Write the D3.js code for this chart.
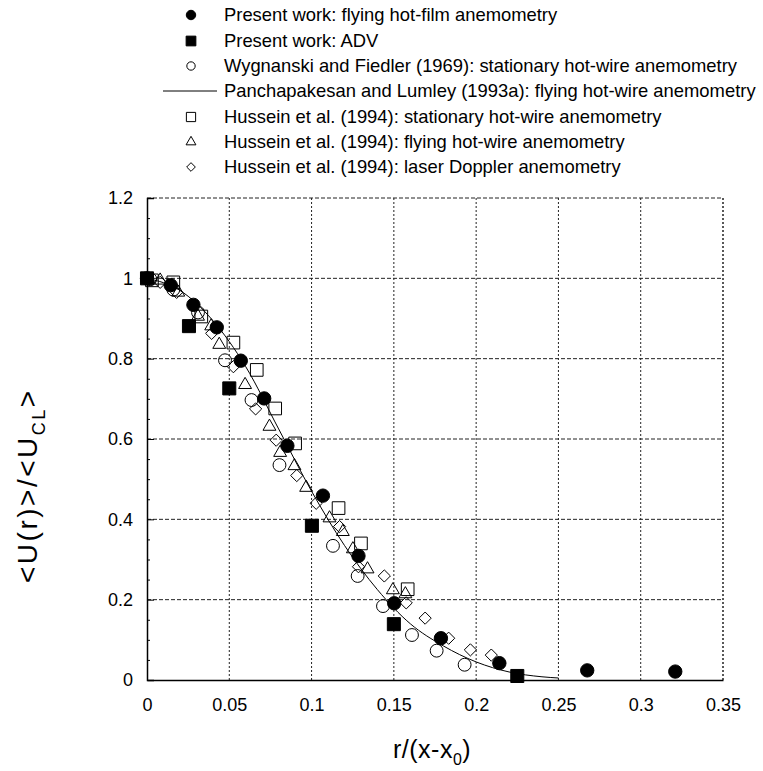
<!DOCTYPE html>
<html>
<head>
<meta charset="utf-8">
<script src="https://cdn.jsdelivr.net/npm/d3@7"></script>
<style>
  html, body { margin: 0; padding: 0; background: #fff; }
  svg { display: block; }
  text { font-family: Arial, "Liberation Sans", sans-serif; fill: #000; }
</style>
</head>
<body>
<svg id="chart" width="763" height="771"></svg>
<script>
// ---------- data ----------
const xTicks = [0, 0.05, 0.1, 0.15, 0.2, 0.25, 0.3, 0.35];
const xTickLabels = ["0", "0.05", "0.1", "0.15", "0.2", "0.25", "0.3", "0.35"];
const yTicks = [0, 0.2, 0.4, 0.6, 0.8, 1, 1.2];
const yTickLabels = ["0", "0.2", "0.4", "0.6", "0.8", "1", "1.2"];

const seriesNames = [
  "Present work: flying hot-film anemometry",
  "Present work: ADV",
  "Wygnanski and Fiedler (1969): stationary hot-wire anemometry",
  "Panchapakesan and Lumley (1993a): flying hot-wire anemometry",
  "Hussein et al. (1994): stationary hot-wire anemometry",
  "Hussein et al. (1994): flying hot-wire anemometry",
  "Hussein et al. (1994): laser Doppler anemometry"
];

// Present work: flying hot-film (filled circles)
const hfX = [0, 0.0144, 0.0282, 0.0424, 0.057, 0.0712, 0.0853, 0.1069, 0.1285, 0.1502, 0.1786, 0.2141, 0.2675, 0.321];
const hfY = [1.0, 0.983, 0.934, 0.878, 0.795, 0.701, 0.583, 0.459, 0.309, 0.191, 0.104, 0.042, 0.024, 0.021];

// Present work: ADV (filled squares)
const advX = [0, 0.0255, 0.050, 0.1002, 0.150, 0.225];
const advY = [1.0, 0.881, 0.726, 0.384, 0.139, 0.01];

// Wygnanski and Fiedler (open circles)
const wfX = [0.002, 0.016, 0.031, 0.0474, 0.0635, 0.0805, 0.113, 0.128, 0.1434, 0.161, 0.176, 0.193];
const wfY = [0.998, 0.972, 0.915, 0.796, 0.697, 0.535, 0.334, 0.259, 0.184, 0.112, 0.073, 0.038];

// Panchapakesan and Lumley (solid line)
const plX = [0, 0.02, 0.04, 0.06, 0.08, 0.1, 0.12, 0.14, 0.16, 0.18, 0.2, 0.22, 0.24, 0.25];
const plY = [1.0, 0.97, 0.895, 0.78, 0.625, 0.47, 0.335, 0.225, 0.14, 0.085, 0.045, 0.02, 0.008, 0.005];

// Hussein et al. stationary hot-wire (open squares)
const hsX = [0.003, 0.016, 0.033, 0.0525, 0.0667, 0.0779, 0.090, 0.1164, 0.130, 0.1584];
const hsY = [0.995, 0.99, 0.905, 0.84, 0.772, 0.676, 0.589, 0.428, 0.340, 0.226];

// Hussein et al. flying hot-wire (open triangles)
const htX = [0.008, 0.019, 0.031, 0.039, 0.0439, 0.0596, 0.0744, 0.0809, 0.0896, 0.0967, 0.1109, 0.119, 0.1251, 0.134, 0.1494, 0.157];
const htY = [0.995, 0.965, 0.905, 0.881, 0.835, 0.735, 0.631, 0.566, 0.533, 0.479, 0.403, 0.369, 0.326, 0.276, 0.224, 0.214];

// Hussein et al. laser Doppler (open diamonds)
const hdX = [0.008, 0.018, 0.0393, 0.0525, 0.066, 0.0785, 0.091, 0.1028, 0.117, 0.1285, 0.1442, 0.1575, 0.169, 0.1833, 0.1965, 0.2092];
const hdY = [0.99, 0.965, 0.863, 0.78, 0.675, 0.597, 0.509, 0.44, 0.382, 0.282, 0.259, 0.192, 0.154, 0.104, 0.075, 0.062];

// ---------- layout ----------
const svg = d3.select("#chart");
const L = 147, R = 723, T = 198, B = 680;
const x = d3.scaleLinear().domain([0, 0.35]).range([L, R]);
const y = d3.scaleLinear().domain([0, 1.2]).range([B, T]);

// grid
const g = svg.append("g");
g.selectAll("line.vg").data(xTicks.slice(1, -1)).enter().append("line")
  .attr("x1", d => x(d)).attr("x2", d => x(d)).attr("y1", T).attr("y2", B)
  .attr("stroke", "#222").attr("stroke-width", 1).attr("stroke-dasharray", "2,2");
g.selectAll("line.hg").data(yTicks.slice(1, -1)).enter().append("line")
  .attr("x1", L).attr("x2", R).attr("y1", d => y(d)).attr("y2", d => y(d))
  .attr("stroke", "#222").attr("stroke-width", 1).attr("stroke-dasharray", "4,2");

// frame: top & right dashed, left & bottom solid
svg.append("line").attr("x1", L).attr("x2", R).attr("y1", T).attr("y2", T)
  .attr("stroke", "#222").attr("stroke-width", 1).attr("stroke-dasharray", "4,2");
svg.append("line").attr("x1", R).attr("x2", R).attr("y1", T).attr("y2", B)
  .attr("stroke", "#222").attr("stroke-width", 1.5).attr("stroke-dasharray", "2,2");

// axes via d3
const yAxis = d3.axisLeft(y).tickValues(yTicks).tickFormat((d, i) => yTickLabels[i]).tickSize(-7).tickPadding(14);
const yAx = svg.append("g").attr("transform", `translate(${L},0)`).call(yAxis);
const xAxis = d3.axisBottom(x).tickValues(xTicks).tickFormat((d, i) => xTickLabels[i]).tickSize(0).tickPadding(18);
const xAx = svg.append("g").attr("transform", `translate(0,${B})`).call(xAxis);
[yAx, xAx].forEach(a => {
  a.select(".domain").attr("stroke", "#000").attr("stroke-width", 1.5);
  a.selectAll("text").style("font-size", "18px").style("font-family", "Arial, 'Liberation Sans', sans-serif").attr("fill", "#000");
  a.selectAll("line").attr("stroke", "#000");
});
// y minor ticks
const yMinor = d3.range(0, 1.2001, 0.05).filter(v => Math.abs(v * 5 - Math.round(v * 5)) > 1e-6);
svg.append("g").attr("transform", `translate(${L},0)`).call(d3.axisLeft(y).tickValues(yMinor).tickSize(-3).tickFormat(""))
  .call(a => a.select(".domain").remove()).selectAll("line").attr("stroke", "#000");

// ---------- marks ----------
const zip = (xs, ys) => xs.map((v, i) => [v, ys[i]]);
const plot = svg.append("g");
const sym = {
  circle: d3.symbol().type(d3.symbolCircle),
  square: d3.symbol().type(d3.symbolSquare),
  triangle: d3.symbol().type(d3.symbolTriangle),
  diamond: d3.symbol().type(d3.symbolDiamond2)
};
function drawPts(data, type, size, filled) {
  plot.append("g").selectAll("path").data(data).enter().append("path")
    .attr("transform", d => `translate(${x(d[0])},${y(d[1])})`)
    .attr("d", sym[type].size(size)())
    .attr("fill", filled ? "#000" : "none")
    .attr("stroke", "#000").attr("stroke-width", 1);
}

// line
plot.append("path").datum(zip(plX, plY))
  .attr("d", d3.line().x(d => x(d[0])).y(d => y(d[1])).curve(d3.curveMonotoneX))
  .attr("fill", "none").attr("stroke", "#000").attr("stroke-width", 1);

drawPts(zip(hdX, hdY), "diamond", 95, false);
drawPts(zip(htX, htY), "triangle", 72, false);
drawPts(zip(hsX, hsY), "square", 160, false);
drawPts(zip(wfX, wfY), "circle", 130, false);
drawPts(zip(advX, advY), "square", 170, true);
drawPts(zip(hfX, hfY), "circle", 140, true);

// ---------- legend ----------
const legY = [15, 41, 66, 91, 117, 142, 167];
const legTypes = [["circle", true], ["square", true], ["circle", false], ["line"], ["square", false], ["triangle", false], ["diamond", false]];
const legSizes = [70, 95, 55, 0, 85, 42, 48];
const lg = svg.append("g");
legTypes.forEach((t, i) => {
  if (t[0] === "line") {
    lg.append("line").attr("x1", 163).attr("x2", 217).attr("y1", legY[i]).attr("y2", legY[i])
      .attr("stroke", "#000").attr("stroke-width", 1);
  } else {
    lg.append("path").attr("transform", `translate(191,${legY[i]})`)
      .attr("d", sym[t[0]].size(legSizes[i])())
      .attr("fill", t[1] ? "#000" : "none").attr("stroke", "#000").attr("stroke-width", 1);
  }
  lg.append("text").attr("x", 224).attr("y", legY[i]).attr("dy", "0.35em")
    .style("font-size", "18.4px").text(seriesNames[i]);
});

// ---------- axis titles ----------
const xt = svg.append("text").attr("x", 393).attr("y", 758).style("font-size", "25px").style("letter-spacing", "0.5px");
xt.append("tspan").text("r/(x-x");
xt.append("tspan").attr("dy", 7).style("font-size", "16px").text("0");
xt.append("tspan").attr("dy", -7).text(")");

const yt = svg.append("text").attr("transform", "translate(37,583) rotate(-90)").style("font-size", "28px").style("letter-spacing", "2.5px");
yt.append("tspan").text("<U(r)>/<U");
yt.append("tspan").attr("dy", 8).style("font-size", "18px").text("CL");
yt.append("tspan").attr("dy", -8).text(">");
</script>
</body>
</html>
